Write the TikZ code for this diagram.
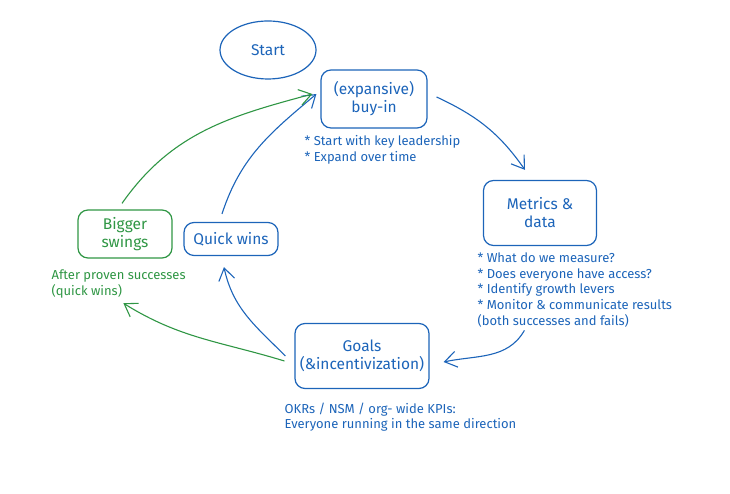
\documentclass[tikz,border=0pt]{standalone}
\usepackage{fontspec}
\setmainfont{Fira Sans}
\usepackage{tikz}
\usetikzlibrary{shapes.geometric, arrows.meta, positioning}
\definecolor{sketchblue}{RGB}{28, 100, 185}
\definecolor{sketchgreen}{RGB}{47, 150, 68}

\begin{document}
\begin{tikzpicture}[
    x=1pt, y=1pt,
    every node/.style={align=center},
    bluebox/.style={draw=sketchblue, text=sketchblue, rounded corners=10pt, line width=1.2pt, inner sep=2pt, font=\fontsize{15.5}{18}\selectfont},
    greenbox/.style={draw=sketchgreen, text=sketchgreen, rounded corners=10pt, line width=1.2pt, inner sep=2pt, font=\fontsize{15.5}{18}\selectfont},
    note/.style={align=left, inner sep=0pt, font=\fontsize{13}{15.7}\selectfont},
    arr/.style={-{Straight Barb[length=12pt, width=16pt]}, line width=1.1pt, color=sketchblue},
    greenarr/.style={-{Straight Barb[length=12pt, width=16pt]}, line width=1.1pt, color=sketchgreen}
]
\useasboundingbox (0,0) rectangle (730,494);

% Main cycle
\node[ellipse, draw=sketchblue, text=sketchblue, line width=1.2pt, minimum width=96pt, minimum height=58pt, font=\fontsize{15.5}{18}\selectfont] (start) at (268,444) {Start};
\node[bluebox, minimum width=106pt, minimum height=58pt] (buyin) at (374,395) {(expansive)\\buy-in};
\node[bluebox, minimum width=113pt, minimum height=65pt] (metrics) at (540,281) {Metrics \&\\data};
\node[bluebox, minimum width=134pt, minimum height=65pt] (goals) at (362,138) {Goals\\(\&incentivization)};
\node[bluebox, minimum width=94pt, minimum height=33pt] (quick) at (231,255) {Quick wins};
\node[greenbox, minimum width=94pt, minimum height=48pt] (bigger) at (125,260) {Bigger\\swings};

% Notes under the boxes
\node[note, text=sketchblue, below right=7pt and -16pt of buyin.south west, anchor=north west] (buyinnote) {* Start with key leadership\\* Expand over time};
\node[note, text=sketchblue, below right=6.5pt and -5.5pt of metrics.south west, anchor=north west] (metricsnote) {* What do we measure?\\* Does everyone have access?\\* Identify growth levers\\* Monitor \& communicate results\\(both successes and fails)};
\node[note, text=sketchblue, below right=13.5pt and -10pt of goals.south west, anchor=north west] (goalsnote) {OKRs / NSM / org- wide KPIs:\\Everyone running in the same direction};
\node[note, text=sketchgreen, below right=11pt and -26pt of bigger.south west, anchor=north west] (greennote) {After proven successes\\(quick wins)};

% Connections
\draw[arr] ([xshift=9pt, yshift=2pt]buyin.east) to[out=-25, in=125] ([xshift=-15pt, yshift=10pt]metrics.north);
\draw[arr] ([xshift=47pt, yshift=-3pt]metricsnote.south west) to[out=-120, in=12] ([xshift=14pt, yshift=-6pt]goals.east);
\draw[arr] ([xshift=-9pt]goals.west) to[out=135, in=-78] ([xshift=-7pt, yshift=-11pt]quick.south);
\draw[greenarr] ([xshift=-10pt, yshift=-5pt]goals.west) to[out=163, in=-32] ([xshift=72pt, yshift=-5pt]greennote.south west);
\draw[arr] ([xshift=-9pt, yshift=8pt]quick.north) to[out=72, in=-140] ([xshift=-4pt, yshift=5pt]buyin.west);
\draw[greenarr] ([xshift=-3pt, yshift=6pt]bigger.north) to[out=55, in=-165] ([xshift=-8pt, yshift=5pt]buyin.west);

\end{tikzpicture}
\end{document}
